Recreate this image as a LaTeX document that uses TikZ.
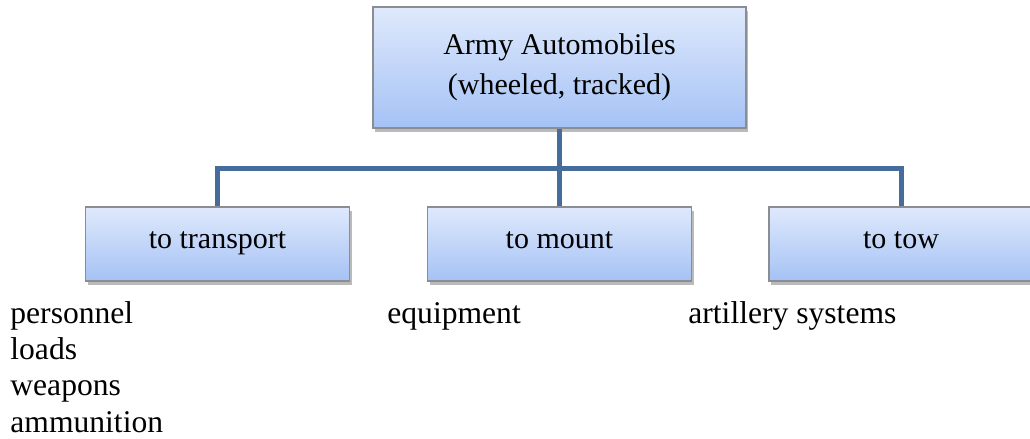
\documentclass[tikz,border=0pt]{standalone}
\usepackage{fontspec}
\setmainfont{Liberation Serif}
\usepackage{xcolor}
\usetikzlibrary{shadows,positioning}
\definecolor{boxtop}{HTML}{DFE9FC}
\definecolor{boxbottom}{HTML}{A5C2F5}
\definecolor{boxedge}{HTML}{8A8D92}
\definecolor{branchblue}{HTML}{466C9C}

\begin{document}
\begin{tikzpicture}[
  x=0.5pt,
  y=-0.5pt,
  catbox/.style={draw=boxedge, line width=0.6pt, top color=boxtop, bottom color=boxbottom,
    drop shadow={shadow xshift=1.2pt, shadow yshift=-1.8pt, opacity=0.45, fill=black!60},
    align=center, inner sep=2pt, font=\fontsize{15}{20}\selectfont},
  rootbox/.style={catbox, minimum width=186.5pt, minimum height=60.5pt},
  leafbox/.style={catbox, minimum width=132pt, minimum height=37pt,
    text height=1.55ex, text depth=0.5ex},
  item/.style={anchor=base west, inner sep=0pt, font=\fontsize{15.8}{18}\selectfont},
  branch/.style={draw=branchblue, line width=2.5pt}
]
\useasboundingbox (0,0) rectangle (1030,439);

\node[rootbox] (root) at (559.5,67.5) {Army Automobiles\\(wheeled, tracked)};

\node[leafbox] (transport) at (217.5,244) {to transport};
\node[leafbox] (mount) at (559.5,244) {to mount};
\node[leafbox] (tow) at (901,244) {to tow};

\coordinate (hub) at (559.5,168);
\draw[branch] (root.south) -- (hub);
\draw[branch] (hub) -- (mount.north);
\draw[branch] (hub) -| (transport.north);
\draw[branch] (hub) -| (tow.north);

\node[item] (personnel) at (10,323) {personnel};
\node[item] (loads) at (10,359) {loads};
\node[item] (weapons) at (10,395.5) {weapons};
\node[item] (ammunition) at (10,432) {ammunition};

\node[item] (equipment) at (387,323) {equipment};
\node[item] (artillery) at (688,323) {artillery systems};

\end{tikzpicture}
\end{document}
